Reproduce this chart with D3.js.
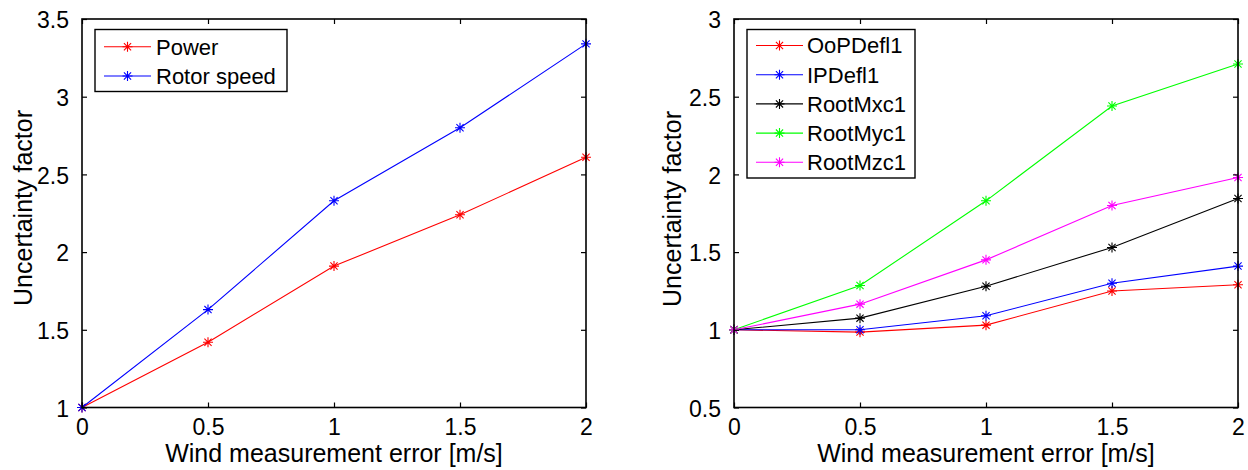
<!DOCTYPE html>
<html>
<head>
<meta charset="utf-8">
<script src="https://cdn.jsdelivr.net/npm/d3@7"></script>
<style>
  html, body { margin: 0; padding: 0; background: #fff; }
  svg { display: block; }
  text { font-family: "Liberation Sans", Arial, Helvetica, sans-serif; fill: #000; }
</style>
</head>
<body>
<svg id="chart" width="1248" height="470"></svg>
<script>
// ---- data ----
const xValues = [0, 0.5, 1, 1.5, 2];
const xTicks = [0, 0.5, 1, 1.5, 2];

// Left panel
const leftNames = ["Power", "Rotor speed"];
const leftColors = ["#ff0000", "#0000ff"];
const power = [1, 1.42, 1.91, 2.24, 2.61];
const rotorSpeed = [1, 1.63, 2.33, 2.80, 3.34];
const leftYTicks = [1, 1.5, 2, 2.5, 3, 3.5];

// Right panel
const rightNames = ["OoPDefl1", "IPDefl1", "RootMxc1", "RootMyc1", "RootMzc1"];
const rightColors = ["#ff0000", "#0000ff", "#000000", "#00ff00", "#ff00ff"];
const ooPDefl1 = [1, 0.985, 1.03, 1.25, 1.29];
const iPDefl1 = [1, 1.0, 1.09, 1.30, 1.41];
const rootMxc1 = [1, 1.075, 1.28, 1.53, 1.845];
const rootMyc1 = [1, 1.285, 1.83, 2.44, 2.71];
const rootMzc1 = [1, 1.165, 1.45, 1.80, 1.98];
const rightYTicks = [0.5, 1, 1.5, 2, 2.5, 3];

const xLabel = "Wind measurement error [m/s]";
const yLabel = "Uncertainty factor";

const svg = d3.select("#chart");

function star(g, x, y, color) {
  const r = 5;
  const d = r * 0.72;
  const p = `M${x - r},${y}L${x + r},${y}M${x},${y - r}L${x},${y + r}` +
            `M${x - d},${y - d}L${x + d},${y + d}M${x - d},${y + d}L${x + d},${y - d}`;
  g.append("path").attr("d", p).attr("stroke", color).attr("stroke-width", 1.1).attr("fill", "none");
}

function panel(opts) {
  const { left, right, top, bottom, yDomain, yTicks, series, names, colors, legend, yLabelX, yLabelY } = opts;
  const x = d3.scaleLinear().domain([0, 2]).range([left, right]);
  const y = d3.scaleLinear().domain(yDomain).range([bottom, top]);
  const g = svg.append("g");
  const tickLen = 5;

  // series
  series.forEach((vals, i) => {
    const pts = xValues.map((xv, j) => [x(xv), y(vals[j])]);
    g.append("path")
      .attr("d", d3.line()(pts))
      .attr("fill", "none")
      .attr("stroke", colors[i])
      .attr("stroke-width", 1.1);
    pts.forEach(p => star(g, p[0], p[1], colors[i]));
  });

  // axes box
  const axisG = g.append("g");
  axisG.append("rect")
    .attr("x", left).attr("y", top)
    .attr("width", right - left).attr("height", bottom - top)
    .attr("fill", "none").attr("stroke", "#000").attr("stroke-width", 1.6);

  const xAxisB = d3.axisBottom(x).tickValues(xTicks).tickSizeInner(-tickLen).tickSizeOuter(0)
    .tickFormat(d3.format("~g")).tickPadding(14);
  const gb = axisG.append("g").attr("transform", `translate(0,${bottom})`).call(xAxisB);
  const xAxisT = d3.axisTop(x).tickValues(xTicks).tickSizeInner(-tickLen).tickSizeOuter(0).tickFormat("");
  const gt = axisG.append("g").attr("transform", `translate(0,${top})`).call(xAxisT);
  const yAxisL = d3.axisLeft(y).tickValues(yTicks).tickSizeInner(-tickLen).tickSizeOuter(0)
    .tickFormat(d3.format("~g")).tickPadding(13);
  const gl = axisG.append("g").attr("transform", `translate(${left},0)`).call(yAxisL);
  const yAxisR = d3.axisRight(y).tickValues(yTicks).tickSizeInner(-tickLen).tickSizeOuter(0).tickFormat("");
  const gr = axisG.append("g").attr("transform", `translate(${right},0)`).call(yAxisR);
  [gb, gt, gl, gr].forEach(a => {
    a.select(".domain").remove();
    a.selectAll(".tick line").attr("stroke", "#000").attr("stroke-width", 1.2);
    a.selectAll("text").attr("font-size", 23).attr("font-family", "'Liberation Sans', Arial, sans-serif").attr("fill", "#000");
  });
  gb.selectAll("text").attr("dy", "0.71em").attr("y", 11);
  gl.selectAll("text").attr("dy", "0.38em");

  // axis titles
  g.append("text")
    .attr("x", (left + right) / 2).attr("y", 462)
    .attr("text-anchor", "middle").attr("font-size", 25)
    .text(xLabel);
  g.append("text")
    .attr("transform", `translate(${yLabelX},${yLabelY}) rotate(-90)`)
    .attr("text-anchor", "middle").attr("font-size", 25)
    .text(yLabel);

  // legend
  const lg = g.append("g");
  lg.append("rect")
    .attr("x", legend.x0).attr("y", legend.y0)
    .attr("width", legend.x1 - legend.x0).attr("height", legend.y1 - legend.y0)
    .attr("fill", "#fff").attr("stroke", "#000").attr("stroke-width", 1.4);
  names.forEach((n, i) => {
    const yy = legend.rowY + i * legend.rowH;
    lg.append("line")
      .attr("x1", legend.lineX0).attr("x2", legend.lineX1)
      .attr("y1", yy).attr("y2", yy)
      .attr("stroke", colors[i]).attr("stroke-width", 1.1);
    star(lg, (legend.lineX0 + legend.lineX1) / 2, yy, colors[i]);
    lg.append("text")
      .attr("x", legend.textX).attr("y", yy).attr("dy", "0.36em")
      .attr("font-size", 22)
      .text(n);
  });
}

panel({
  left: 82, right: 586, top: 19, bottom: 407.5,
  yDomain: [1, 3.5], yTicks: leftYTicks,
  series: [power, rotorSpeed], names: leftNames, colors: leftColors,
  yLabelX: 32, yLabelY: 208,
  legend: { x0: 95, y0: 29.5, x1: 287, y1: 91.5, rowY: 46.7, rowH: 29.3, lineX0: 104, lineX1: 151, textX: 156 }
});

panel({
  left: 734, right: 1238, top: 19, bottom: 407.5,
  yDomain: [0.5, 3], yTicks: rightYTicks,
  series: [ooPDefl1, iPDefl1, rootMxc1, rootMyc1, rootMzc1], names: rightNames, colors: rightColors,
  yLabelX: 681, yLabelY: 209,
  legend: { x0: 747, y0: 29.5, x1: 915, y1: 178, rowY: 45.5, rowH: 29.2, lineX0: 756, lineX1: 803, textX: 807 }
});
</script>
</body>
</html>
